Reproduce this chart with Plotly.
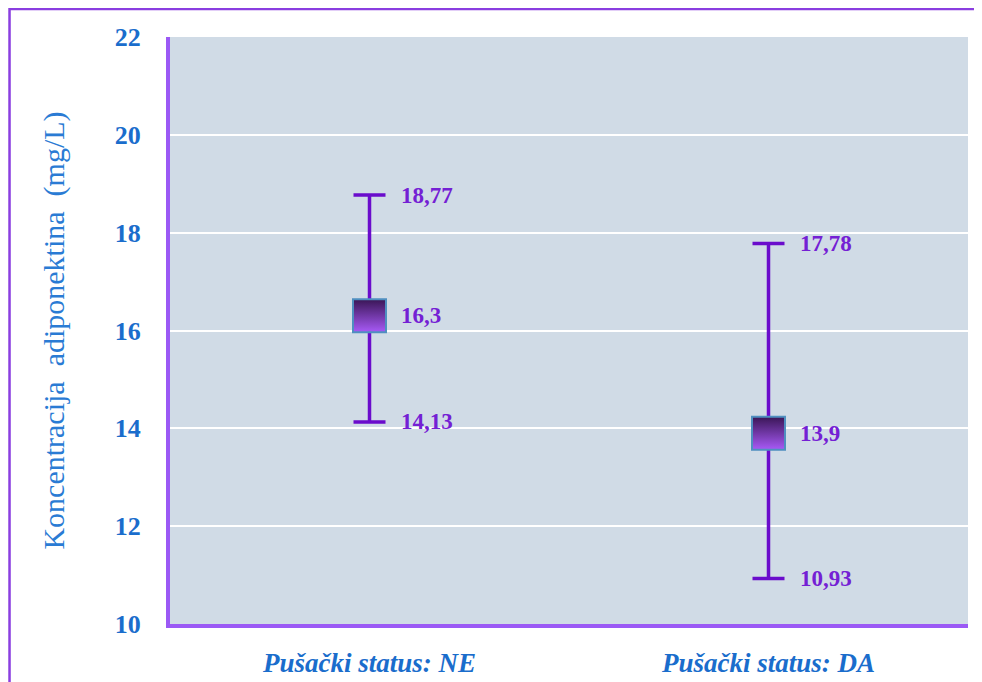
import plotly.graph_objects as go

categories = ["Pušački status: NE", "Pušački status: DA"]
means = [16.3, 13.9]
lows = [14.13, 10.93]
highs = [18.77, 17.78]
mean_labels = ["16,3", "13,9"]
low_labels = ["14,13", "10,93"]
high_labels = ["18,77", "17,78"]
y_ticks = [10, 12, 14, 16, 18, 20, 22]

err_plus = [h - m for h, m in zip(highs, means)]
err_minus = [m - l for m, l in zip(means, lows)]

SERIF = "Liberation Serif, Times New Roman, serif"

fig = go.Figure()
fig.add_trace(go.Scatter(
    x=categories, y=means, mode="markers",
    marker=dict(symbol="square", size=33, color="#3a1656",
                gradient=dict(type="vertical", color="#a85af7"),
                line=dict(color="#4f8fc0", width=2)),
    error_y=dict(type="data", symmetric=False, array=err_plus, arrayminus=err_minus,
                 color="#6a0ccc", thickness=3.5, width=16),
    showlegend=False, hoverinfo="skip",
))

label_font = dict(family=SERIF, size=23, color="#7420d4")
annotations = []
for c, m, l, h, ml, ll, hl in zip(categories, means, lows, highs, mean_labels, low_labels, high_labels):
    for yv, txt in ((m, ml), (l, ll), (h, hl)):
        annotations.append(dict(x=c, y=yv, xref="x", yref="y", text="<b>%s</b>" % txt,
                                 showarrow=False, xanchor="left", yanchor="middle",
                                 xshift=29, font=label_font))

fig.update_layout(
    width=982, height=682,
    margin=dict(l=162, r=22, t=29, b=64),
    paper_bgcolor="white", plot_bgcolor="#d0dbe6",
    annotations=annotations,
    shapes=[dict(type="rect", xref="paper", yref="paper",
                 x0=-0.2011, x1=1.2, y0=-0.3, y1=1.0475,
                 line=dict(color="#8a3ee0", width=2.5), fillcolor="rgba(0,0,0,0)", layer="below")],
    xaxis=dict(
        showgrid=False, showline=True, linecolor="#9b59f5", linewidth=4,
        tickfont=dict(family=SERIF, size=27, color="#1a6dcc"),
        tickprefix="<b><i>", ticksuffix="</i></b>", ticks="", ticklabelstandoff=12,
        range=[-0.5, 1.5], fixedrange=True,
    ),
    yaxis=dict(
        range=[10, 22], tickvals=y_ticks, ticktext=["<b>%d</b>" % t for t in y_ticks],
        showgrid=True, gridcolor="white", gridwidth=2,
        showline=True, linecolor="#9b59f5", linewidth=4, zeroline=False,
        tickfont=dict(family=SERIF, size=26, color="#1a6dcc"),
        ticks="", ticklabelstandoff=20,
        title=dict(text="Koncentracija\u00a0 adiponektina\u00a0 (mg/L)", standoff=42,
                   font=dict(family=SERIF, size=30, color="#2a7bd4")),
    ),
)

fig.write_html("out.html")
